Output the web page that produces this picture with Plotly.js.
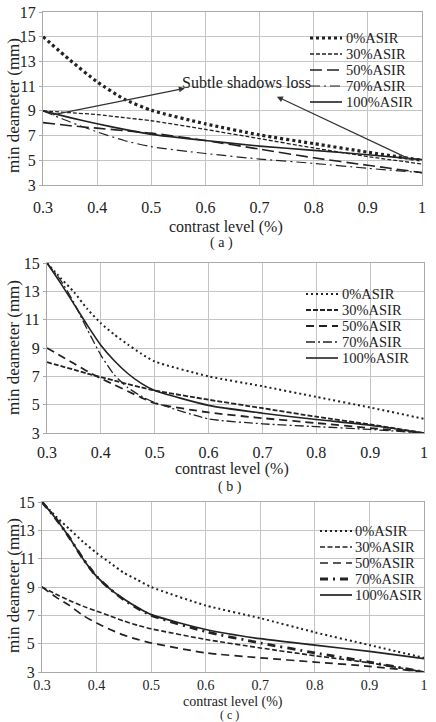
<!DOCTYPE html>
<html>
<head>
<meta charset="utf-8">
<script src="https://cdn.plot.ly/plotly-3.0.1.min.js"></script>
<style>
  html, body { margin: 0; padding: 0; background: #fff; }
  #chart { width: 436px; height: 722px; }
</style>
</head>
<body>
<div id="chart"></div>
<script>
// ---- data: minimum detectable diameter (mm) vs contrast level ----
const seriesNames = ['0%ASIR', '30%ASIR', '50%ASIR', '70%ASIR', '100%ASIR'];
const tickValues = [0.3, 0.4, 0.5, 0.6, 0.7, 0.8, 0.9, 1.0];
const tickLabels = ['0.3', '0.4', '0.5', '0.6', '0.7', '0.8', '0.9', '1'];

// panel (a)
const contrastA = [0.3, 0.35, 0.4, 0.45, 0.5, 0.6, 0.7, 0.8, 0.9, 1.0];
const a_asir0   = [15, 13.1, 11.35, 9.95, 9.05, 7.95, 7.05, 6.35, 5.65, 5.0];
const a_asir30  = [9.0, 8.85, 8.7, 8.45, 8.2, 7.5, 6.75, 6.0, 5.3, 4.7];
const a_asir50  = [8.05, 7.8, 7.6, 7.4, 7.2, 6.6, 5.9, 5.2, 4.6, 4.0];
const a_asir70  = [9.0, 8.1, 7.3, 6.6, 6.1, 5.55, 5.1, 4.75, 4.35, 4.0];
const a_asir100 = [9.0, 8.45, 7.95, 7.5, 7.1, 6.6, 6.15, 5.8, 5.45, 5.05];

// panel (b)
const contrastB = [0.3, 0.325, 0.35, 0.375, 0.4, 0.425, 0.45, 0.475, 0.5, 0.6, 0.7, 0.8, 0.9, 1.0];
const b_asir0   = [15, 13.95, 12.95, 11.75, 10.75, 9.95, 9.25, 8.6, 8.05, 7.0, 6.3, 5.55, 4.8, 4.0];
const b_asir30  = [8.0, 7.73, 7.47, 7.2, 6.95, 6.7, 6.45, 6.22, 6.0, 5.35, 4.75, 4.15, 3.6, 3.0];
const b_asir50  = [9.0, 8.45, 7.9, 7.35, 6.85, 6.4, 5.95, 5.5, 5.1, 4.45, 4.05, 3.7, 3.35, 3.0];
const b_asir70  = [15, 13.8, 12.2, 10.3, 8.5, 7.1, 6.2, 5.6, 5.15, 4.0, 3.65, 3.45, 3.25, 3.0];
const b_asir100 = [15, 13.6, 12.1, 10.6, 9.2, 8.1, 7.2, 6.5, 6.0, 4.95, 4.4, 3.95, 3.55, 3.0];

// panel (c)
const contrastC = [0.3, 0.325, 0.35, 0.375, 0.4, 0.425, 0.45, 0.475, 0.5, 0.6, 0.7, 0.8, 0.9, 1.0];
const c_asir0   = [15, 14.0, 13.1, 12.2, 11.4, 10.7, 10.0, 9.5, 9.0, 7.7, 6.8, 5.8, 4.9, 4.0];
const c_asir30  = [9.0, 8.5, 8.05, 7.65, 7.3, 6.95, 6.6, 6.3, 6.05, 5.3, 4.7, 4.15, 3.65, 3.0];
const c_asir50  = [9.0, 8.3, 7.7, 7.0, 6.45, 6.0, 5.6, 5.3, 5.05, 4.35, 4.0, 3.7, 3.4, 3.0];
const c_asir70  = [15, 13.85, 12.5, 11.0, 9.75, 8.85, 8.1, 7.5, 7.0, 5.85, 5.05, 4.35, 3.7, 3.0];
const c_asir100 = [15, 13.85, 12.5, 11.0, 9.75, 8.85, 8.15, 7.55, 7.05, 6.0, 5.35, 4.9, 4.45, 3.95];

// ---- page geometry (pixels) ----
const W = 436, H = 722;
const px = v => v / W;
const py = v => 1 - v / H;
const FONT = "'Liberation Serif', 'Times New Roman', serif";
const INK = '#222';
const GRID = '#c4c4c4';
const FRAME = '#a9a9a9';
const KEY_SIZE = 14.5;
const KEY_STEP = 16;

// line looks for each series, per panel
const lookA = [
  { width: 3.2, dash: '3px,3px' },
  { width: 1.3, dash: '4px,2px' },
  { width: 1.6, dash: '12px,5px' },
  { width: 1.2, dash: '10px,4px,2px,4px' },
  { width: 1.6, dash: 'solid' }
];
const lookB = [
  { width: 2.0, dash: '2px,3px' },
  { width: 1.8, dash: '5px,2px' },
  { width: 1.8, dash: '8px,5px' },
  { width: 1.3, dash: '9px,3px,2px,3px' },
  { width: 1.6, dash: 'solid' }
];
const lookC = [
  { width: 2.0, dash: '2px,3px' },
  { width: 1.6, dash: '5px,2.5px' },
  { width: 1.7, dash: '8px,5px' },
  { width: 2.8, dash: '8px,5px,2px,5px' },
  { width: 1.7, dash: 'solid' }
];

const panels = [
  { xa: 'x',  ya: 'y',  x: contrastA, ys: [a_asir0, a_asir30, a_asir50, a_asir70, a_asir100], look: lookA,
    box: { l: 43, r: 422, t: 12, b: 185 }, yr: [3, 17], standoff: 8, tickSize: 16,
    xTitle: [226, 227, 16], tag: ['( a )', 222, 243, 14], yTitleY: 106,
    legend: { mid: 70, x0: 310, x1: 342, tx: 344 } },
  { xa: 'x2', ya: 'y2', x: contrastB, ys: [b_asir0, b_asir30, b_asir50, b_asir70, b_asir100], look: lookB,
    box: { l: 47, r: 424, t: 263, b: 433 }, yr: [3, 15], standoff: 5, tickSize: 16,
    xTitle: [232, 469, 16], tag: ['( b )', 230, 487, 14], yTitleY: 348,
    legend: { mid: 326, x0: 306, x1: 338, tx: 340 } },
  { xa: 'x3', ya: 'y3', x: contrastC, ys: [c_asir0, c_asir30, c_asir50, c_asir70, c_asir100], look: lookC,
    box: { l: 42, r: 424, t: 502, b: 672 }, yr: [3, 15], standoff: 0, tickSize: 14,
    xTitle: [233, 702, 14], tag: ['( c )', 230, 715, 12], yTitleY: 586,
    legend: { mid: 563, x0: 320, x1: 352, tx: 353 } }
];

const traces = [];
const shapes = [];
const annotations = [];
const layout = {
  width: W, height: H,
  margin: { l: 0, r: 0, t: 0, b: 0 },
  paper_bgcolor: '#fff', plot_bgcolor: '#fff',
  showlegend: false,
  font: { family: FONT, size: 16, color: INK }
};

panels.forEach((p, i) => {
  const sfx = i === 0 ? '' : String(i + 1);
  p.ys.forEach((yv, k) => {
    traces.push({
      type: 'scatter', mode: 'lines', name: seriesNames[k],
      x: p.x, y: yv, xaxis: p.xa, yaxis: p.ya,
      line: { color: INK, width: p.look[k].width, dash: p.look[k].dash, shape: 'spline', smoothing: 0.6 },
      hoverinfo: 'skip'
    });
  });

  layout['xaxis' + sfx] = {
    domain: [px(p.box.l), px(p.box.r)], anchor: p.ya, range: [0.3, 1.0],
    tickvals: tickValues, ticktext: tickLabels, ticks: '', ticklabelstandoff: p.standoff,
    showgrid: true, gridcolor: GRID, gridwidth: 1, zeroline: false,
    showline: true, linecolor: FRAME, linewidth: 1, mirror: true,
    tickfont: { family: FONT, size: p.tickSize, color: INK }
  };
  const yt = [];
  for (let v = p.yr[0]; v <= p.yr[1]; v += 2) yt.push(v);
  layout['yaxis' + sfx] = {
    domain: [py(p.box.b), py(p.box.t)], anchor: p.xa, range: p.yr,
    tickvals: yt, ticks: 'outside', ticklen: 3, tickcolor: FRAME,
    showgrid: true, gridcolor: GRID, gridwidth: 1, zeroline: false,
    showline: true, linecolor: FRAME, linewidth: 1, mirror: true,
    tickfont: { family: FONT, size: 16, color: INK }
  };

  // axis titles and panel tag
  annotations.push({ xref: 'paper', yref: 'paper', x: px(p.xTitle[0]), y: py(p.xTitle[1]),
    text: 'contrast level (%)', showarrow: false, xanchor: 'center', yanchor: 'middle',
    font: { family: FONT, size: p.xTitle[2], color: INK } });
  annotations.push({ xref: 'paper', yref: 'paper', x: px(p.tag[1]), y: py(p.tag[2]),
    text: p.tag[0], showarrow: false, xanchor: 'center', yanchor: 'middle',
    font: { family: FONT, size: p.tag[3], color: INK } });
  annotations.push({ xref: 'paper', yref: 'paper', x: px(13), y: py(p.yTitleY),
    text: 'min deameter (mm)', textangle: -90, showarrow: false, xanchor: 'center', yanchor: 'middle',
    font: { family: FONT, size: 17, color: INK } });

  // key inside the plot area
  seriesNames.forEach((name, k) => {
    const row = p.legend.mid + (k - 2) * KEY_STEP;
    shapes.push({ type: 'line', xref: 'paper', yref: 'paper',
      x0: px(p.legend.x0), x1: px(p.legend.x1), y0: py(row), y1: py(row),
      line: { color: INK, width: p.look[k].width, dash: p.look[k].dash } });
    annotations.push({ xref: 'paper', yref: 'paper', x: px(p.legend.tx), y: py(row),
      text: name, showarrow: false, xanchor: 'left', yanchor: 'middle',
      font: { family: FONT, size: KEY_SIZE, color: INK } });
  });
});

// call-out on panel (a)
annotations.push({ xref: 'x', yref: 'y', x: 0.675, y: 11.33, text: 'Subtle shadows loss',
  showarrow: false, xanchor: 'center', yanchor: 'middle', font: { family: FONT, size: 16, color: INK } });
annotations.push({ xref: 'x', yref: 'y', x: 0.562, y: 10.83, axref: 'x', ayref: 'y', ax: 0.315, ay: 8.65,
  text: '', showarrow: true, arrowhead: 2, arrowsize: 1, arrowwidth: 1.2, arrowcolor: '#333', standoff: 0, startstandoff: 0 });
annotations.push({ xref: 'x', yref: 'y', x: 0.732, y: 10.15, axref: 'x', ayref: 'y', ax: 0.981, ay: 5.02,
  text: '', showarrow: true, arrowhead: 2, arrowsize: 1, arrowwidth: 1.2, arrowcolor: '#333', standoff: 0, startstandoff: 0 });

layout.shapes = shapes;
layout.annotations = annotations;

Plotly.newPlot('chart', traces, layout, { displayModeBar: false, staticPlot: true });
</script>
</body>
</html>
